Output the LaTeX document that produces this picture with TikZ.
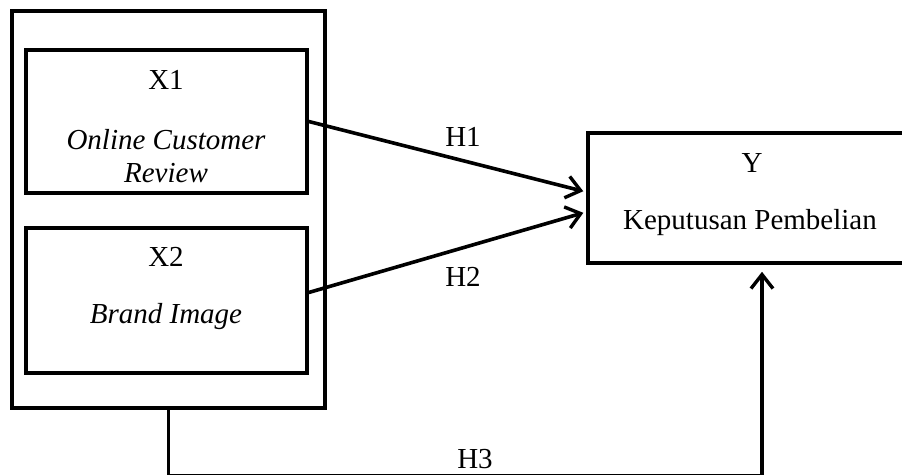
\documentclass[tikz,border=0pt]{standalone}
\usepackage{fontspec}
\setmainfont{Liberation Serif}
\usetikzlibrary{arrows.meta}

\begin{document}
\begin{tikzpicture}[x=0.5pt, y=-0.5pt,
    font=\fontsize{14.5}{16.5}\selectfont,
    box/.style={draw, rectangle, line width=1.8pt, inner sep=0pt},
    link/.style={line width=1.8pt, -{Straight Barb[length=7pt, width=11pt, line width=1.7pt]}, shorten >=1.5pt}]

    \useasboundingbox (0, 0) rectangle (902, 475);

    % Boxes
    \node at (168.5, 209.5) (outer) [box, minimum width=156.5pt, minimum height=198.5pt] {};
    \node at (166.5, 121.5) (x1) [box, minimum width=140.5pt, minimum height=71.5pt] {};
    \node at (166.5, 300.5) (x2) [box, minimum width=140.5pt, minimum height=72.5pt] {};
    \node at (750, 198) (y) [box, minimum width=162pt, minimum height=65pt] {};

    % Texts
    \node at (166, 80) (x1name) {X1};
    \node at (166, 156) (x1text) [align=center, font=\fontsize{14.5}{16.5}\selectfont\itshape] {Online Customer\\Review};
    \node at (166, 257) (x2name) {X2};
    \node at (166, 317) (x2text) [font=\fontsize{14.5}{16.5}\selectfont\itshape] {Brand Image};
    \node at (752, 163) (yname) {Y};
    \node at (750, 223) (ytext) {Keputusan Pembelian};
    \node at (463, 137) (h1) {H1};
    \node at (463, 277) (h2) {H2};
    \node at (475, 459) (h3) {H3};

    % Arrows
    \coordinate (h3corner) at (762, 475.6);
    \draw[link] (x1.east) -- ([yshift=3pt]y.west);
    \draw[link] ([yshift=4pt]x2.east) -- ([yshift=-7pt]y.west);
    \draw[link, shorten >=3.5pt] (outer.south) |- (h3corner) -- ([xshift=6pt]y.south);

\end{tikzpicture}
\end{document}
